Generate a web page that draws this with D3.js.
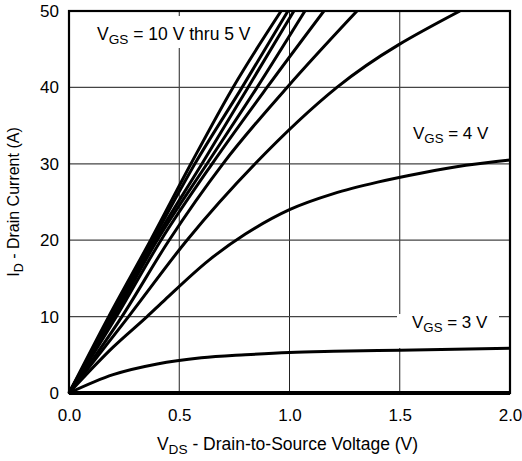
<!DOCTYPE html>
<html>
<head>
<meta charset="utf-8">
<script src="https://cdn.jsdelivr.net/npm/d3@7"></script>
<style>
  body { margin: 0; background: #fff; }
  svg { display: block; font-family: "Liberation Sans", Arial, sans-serif; }
</style>
</head>
<body>
<div id="chart"></div>
<script>
// curves: [VDS, ID]
const vgs10 = [[0,0],[0.18,10],[0.37,20],[0.553,30],[0.744,40],[0.962,50]];
const vgs8  = [[0,0],[0.19,10],[0.38,20],[0.571,30],[0.785,40],[0.993,50]];
const vgs7  = [[0,0],[0.198,10],[0.39,20],[0.603,30],[0.812,40],[1.02,50]];
const vgs6  = [[0,0],[0.205,10],[0.40,20],[0.626,30],[0.853,40],[1.07,50]];
const vgs5  = [[0,0],[0.215,10],[0.417,20],[0.649,30],[0.898,40],[1.156,50]];
const vgs45 = [[0,0],[0.24,10],[0.454,20],[0.698,30],[0.989,40],[1.306,50]];
const vgs42 = [[0,0],[0.27,10],[0.535,20],[0.844,30],[1.215,40],[1.773,50]];
const vgs4  = [[0,0],[0.2,6],[0.354,10],[0.435,12.2],[0.635,17.4],[0.8,20.8],[1.0,24],[1.2,26.1],[1.4,27.6],[1.6,28.8],[1.8,29.8],[2.0,30.5]];
const vgs3  = [[0,0],[0.2,2.4],[0.4,3.8],[0.6,4.6],[0.8,5.0],[1.0,5.3],[1.2,5.45],[1.5,5.6],[2.0,5.85]];
const vgs2  = [[0,0],[2.0,0]];
const curves = [vgs10, vgs8, vgs7, vgs6, vgs5, vgs45, vgs42, vgs4, vgs3, vgs2];

const xTicks = [0, 0.5, 1.0, 1.5, 2.0];
const yTicks = [0, 10, 20, 30, 40, 50];

const margin = {top: 11, right: 12, bottom: 68, left: 69};
const width = 522 - margin.left - margin.right;
const height = 461 - margin.top - margin.bottom;

const x = d3.scaleLinear().domain([0, 2]).range([0, width]);
const y = d3.scaleLinear().domain([0, 50]).range([height, 0]);

const svg = d3.select('#chart')
  .append('svg')
  .attr('width', 522)
  .attr('height', 461)
  .append('g')
  .attr('transform', `translate(${margin.left},${margin.top})`);

svg.append('clipPath')
  .attr('id', 'plotclip')
  .append('rect')
  .attr('x', -2).attr('y', 0)
  .attr('width', width + 4).attr('height', height + 2);

// gridlines
svg.selectAll('.xgrid')
  .data(xTicks.slice(1, -1))
  .join('line')
  .attr('x1', d => x(d)).attr('x2', d => x(d))
  .attr('y1', 0).attr('y2', height)
  .attr('stroke', '#222').attr('stroke-width', 1);

svg.selectAll('.ygrid')
  .data(yTicks.slice(1, -1))
  .join('line')
  .attr('x1', 0).attr('x2', width)
  .attr('y1', d => y(d)).attr('y2', d => y(d))
  .attr('stroke', '#444').attr('stroke-width', 1.2);

// white boxes behind labels
svg.append('rect').attr('x', 23).attr('y', 5).attr('width', 172).attr('height', 32).attr('fill', '#fff');
svg.append('rect').attr('x', 328).attr('y', 303).attr('width', 102).attr('height', 34).attr('fill', '#fff');

// curves
const line = d3.line()
  .x(d => x(d[0]))
  .y(d => y(d[1]))
  .curve(d3.curveMonotoneX);

svg.append('g')
  .attr('clip-path', 'url(#plotclip)')
  .selectAll('path')
  .data(curves)
  .join('path')
  .attr('fill', 'none')
  .attr('stroke', '#000')
  .attr('stroke-width', (d, i) => i === curves.length - 1 ? 4 : 3)
  .attr('stroke-linejoin', 'round')
  .attr('d', line);

// frame
svg.append('rect')
  .attr('width', width).attr('height', height)
  .attr('fill', 'none').attr('stroke', '#000').attr('stroke-width', 2.2);

// axes
svg.append('g')
  .attr('transform', `translate(0,${height})`)
  .style('font-size', '17px')
  .call(d3.axisBottom(x).tickValues(xTicks).tickFormat(d3.format('.1f')).tickSize(0).tickPadding(16))
  .call(g => g.select('.domain').remove())
  .selectAll('text').attr('fill', '#000').style('font-family', '"Liberation Sans", Arial, sans-serif');

svg.append('g')
  .style('font-size', '17px')
  .call(d3.axisLeft(y).tickValues(yTicks).tickSize(0).tickPadding(10))
  .call(g => g.select('.domain').remove())
  .selectAll('text').attr('fill', '#000').style('font-family', '"Liberation Sans", Arial, sans-serif');

// labels with subscripts
function subLabel(g, xPos, yPos, main, sub, rest, size, anchor) {
  const t = g.append('text')
    .attr('x', xPos).attr('y', yPos)
    .attr('text-anchor', anchor || 'start')
    .style('font-size', size + 'px');
  t.append('tspan').text(main);
  t.append('tspan').attr('dy', 4).style('font-size', (size * 0.78) + 'px').text(sub);
  t.append('tspan').attr('dy', -4).text(rest);
  return t;
}

subLabel(svg, 28, 29, 'V', 'GS', ' = 10 V thru 5 V', 17.5);
subLabel(svg, 344, 128, 'V', 'GS', ' = 4 V', 17);
subLabel(svg, 343, 317, 'V', 'GS', ' = 3 V', 17);

// axis titles
subLabel(svg, width / 2 - 2, height + 57, 'V', 'DS', ' - Drain-to-Source Voltage (V)', 17.5, 'middle');
subLabel(svg, 0, 0, 'I', 'D', ' - Drain Current (A)', 16, 'middle')
  .attr('transform', `translate(${-50},${height / 2}) rotate(-90)`);
</script>
</body>
</html>
